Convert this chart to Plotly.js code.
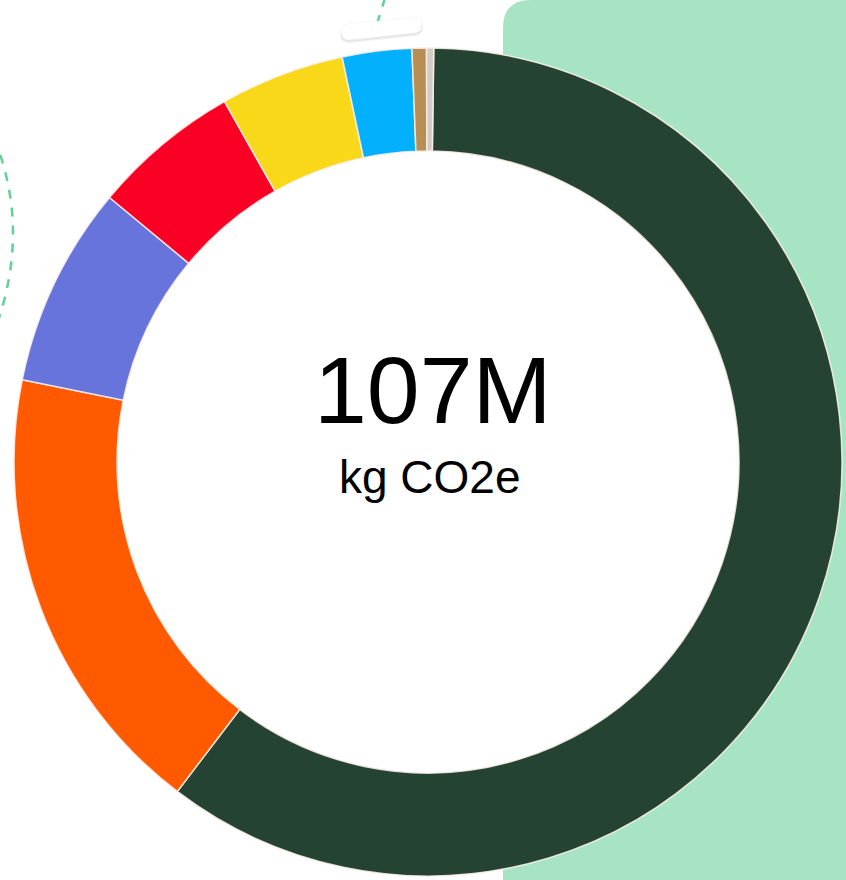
<!DOCTYPE html>
<html>
<head>
<meta charset="utf-8">
<script src="https://cdn.plot.ly/plotly-3.0.1.min.js"></script>
<style>
  html, body { margin: 0; padding: 0; background: #fff; }
  #myDiv { width: 846px; height: 880px; }
</style>
</head>
<body>
<div id="myDiv"></div>
<script>
// emissions split, million kg CO2e
var categories = ['Category 1', 'Category 2', 'Category 3', 'Category 4', 'Category 5', 'Category 6', 'Category 7', 'Category 8'];
var emissions = [64.4, 19.1, 8.4, 6.2, 5.2, 2.9, 0.6, 0.3];
var sliceColors = ['#244332', '#ff5a00', '#6674dc', '#fa0025', '#f8d818', '#03b0fd', '#b98e55', '#d3ccc4'];
var totalLabel = '107M';
var unitLabel = 'kg CO2e';

var W = 846, H = 880;
// pixel -> paper helper for the decorative shapes
function p(x, y) {
  return (x / W).toFixed(4) + ',' + (1 - y / H).toFixed(4);
}

function pill(dx, dy) {
  return 'M ' + p(349 + dx, 24 + dy) + ' L ' + p(414 + dx, 17 + dy) + ' Q ' + p(422 + dx, 17 + dy) + ' ' + p(422 + dx, 25 + dy) +
         ' Q ' + p(422 + dx, 33 + dy) + ' ' + p(414 + dx, 33 + dy) + ' L ' + p(349 + dx, 40 + dy) + ' Q ' + p(341 + dx, 40 + dy) + ' ' + p(341 + dx, 32 + dy) +
         ' Q ' + p(341 + dx, 24 + dy) + ' ' + p(349 + dx, 24 + dy) + ' Z';
}

var cx = 428, cy = 462, R = 414, rIn = 311;

var traceDonut = {
  type: 'pie',
  labels: categories,
  values: emissions,
  marker: {colors: sliceColors, line: {color: 'rgba(255,240,235,0.85)', width: 1.5}},
  hole: rIn / R,
  sort: false,
  direction: 'clockwise',
  rotation: 0.8,
  textinfo: 'none',
  hoverinfo: 'label+value+percent',
  domain: {x: [(cx - R) / W, (cx + R) / W], y: [(H - cy - R) / H, (H - cy + R) / H]}
};

var data = [traceDonut];

var layout = {
  width: W,
  height: H,
  margin: {l: 0, r: 0, t: 0, b: 0},
  paper_bgcolor: '#ffffff',
  showlegend: false,
  shapes: [
    // green panel on the right
    {type: 'path', xref: 'paper', yref: 'paper', layer: 'below',
     path: 'M ' + p(503, 900) + ' L ' + p(503, 28) + ' Q ' + p(503, 0) + ' ' + p(531, 0) +
           ' L ' + p(860, 0) + ' L ' + p(860, 900) + ' Z',
     fillcolor: '#a6e4c3', line: {width: 0}},
    // white hole
    {type: 'circle', xref: 'paper', yref: 'paper', layer: 'below',
     xsizemode: 'pixel', ysizemode: 'pixel', xanchor: cx / W, yanchor: 1 - cy / H,
     x0: -rIn, x1: rIn, y0: -rIn, y1: rIn,
     fillcolor: '#ffffff', line: {width: 0}},
    // dashed curve on the left
    {type: 'path', xref: 'paper', yref: 'paper', layer: 'below',
     path: 'M ' + p(-6, 138) + ' Q ' + p(32, 232) + ' ' + p(-6, 332),
     line: {color: '#5fd199', width: 2.5, dash: 'dash'}},
    // dashed line at top
    {type: 'path', xref: 'paper', yref: 'paper', layer: 'below',
     path: 'M ' + p(385, -2) + ' L ' + p(377, 24),
     line: {color: '#5fd199', width: 2.5, dash: 'dash'}},
    // pill shadow + pill
    {type: 'path', xref: 'paper', yref: 'paper', layer: 'above',
     path: pill(0, 2), fillcolor: 'rgba(0,0,0,0.06)', line: {color: 'rgba(0,0,0,0.05)', width: 2}},
    {type: 'path', xref: 'paper', yref: 'paper', layer: 'above',
     path: pill(0, 0), fillcolor: '#ffffff', line: {color: 'rgba(0,0,0,0.04)', width: 1}}
  ],
  annotations: [
    {text: totalLabel, x: 433 / W, y: 1 - 390 / H, xref: 'paper', yref: 'paper',
     xanchor: 'center', yanchor: 'middle', showarrow: false,
     font: {family: 'Liberation Sans, Arial, sans-serif', size: 95, color: '#000'}},
    {text: unitLabel, x: 430 / W, y: 1 - 477 / H, xref: 'paper', yref: 'paper',
     xanchor: 'center', yanchor: 'middle', showarrow: false,
     font: {family: 'Liberation Sans, Arial, sans-serif', size: 46, color: '#000'}}
  ]
};

Plotly.newPlot('myDiv', data, layout, {displayModeBar: false, staticPlot: true});
</script>
</body>
</html>
